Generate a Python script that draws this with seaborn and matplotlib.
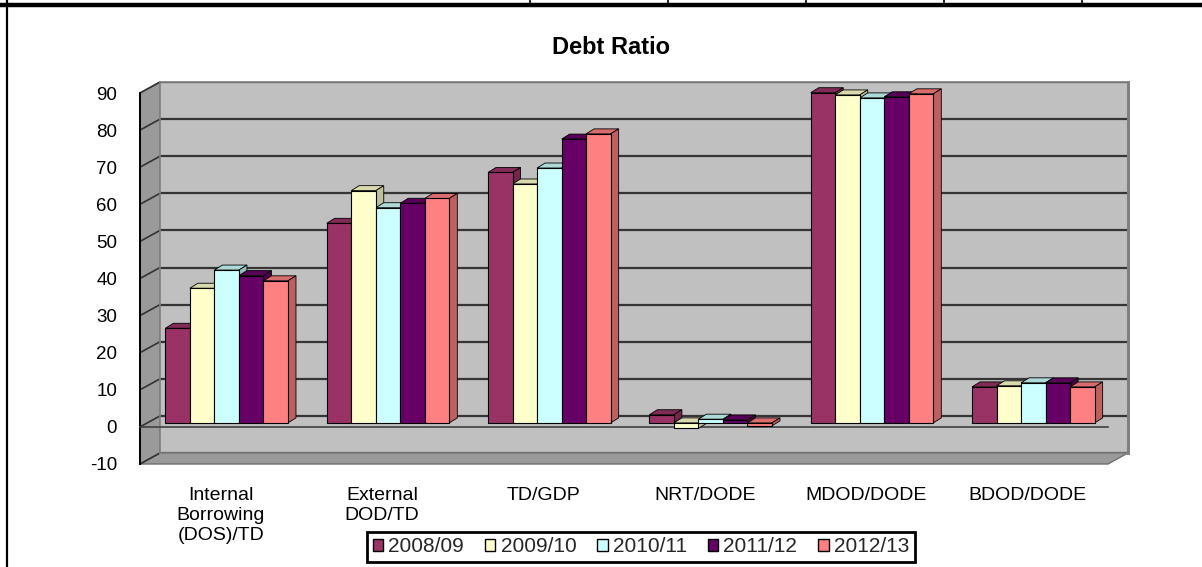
import numpy as np
import pandas as pd
import matplotlib
matplotlib.use("Agg")
import matplotlib.pyplot as plt
from matplotlib.patches import Polygon, Patch
from matplotlib.colors import to_rgb
import seaborn as sns

# ---- data -------------------------------------------------------------
categories = ["Internal\nBorrowing\n(DOS)/TD", "External\nDOD/TD", "TD/GDP",
              "NRT/DODE", "MDOD/DODE", "BDOD/DODE"]
years = ["2008/09", "2009/10", "2010/11", "2011/12", "2012/13"]

ratio_2008_09 = [25.5, 53.8, 67.5, 2.2, 89.0, 9.7]
ratio_2009_10 = [36.3, 62.6, 64.4, -1.5, 88.4, 10.0]
ratio_2010_11 = [41.2, 58.0, 68.7, 1.0, 87.6, 10.8]
ratio_2011_12 = [39.7, 59.2, 76.5, 0.8, 87.9, 10.8]
ratio_2012_13 = [38.3, 60.5, 77.9, -0.8, 88.7, 9.7]

y_ticks = list(range(-10, 100, 10))

# ---- styling ----------------------------------------------------------
colors = ["#993366", "#FFFFCC", "#CCFFFF", "#660066", "#FF8080"]

sns.set_theme(style="white")
plt.rcParams["font.family"] = ["Liberation Sans", "DejaVu Sans"]

series = [ratio_2008_09, ratio_2009_10, ratio_2010_11, ratio_2011_12, ratio_2012_13]
df = pd.DataFrame({
    "category": [c for _ in years for c in categories],
    "year": [y for y in years for _ in categories],
    "value": [v for s in series for v in s],
})

W, H = 1202, 567
fig = plt.figure(figsize=(W / 100, H / 100), dpi=100)

# pixel layout of the pseudo-3D box (front plane, depth offset, bar plane)
FL, FR = 140, 1108          # front plane left/right
FT, FB = 93, 464            # front plane y of top/bottom of the value range
DX, DY = 20, 11             # depth offset to the back wall
BX, BY = 6, 4               # bar plane offset
YMIN, YMAX = -10, 90


def add_ax(left, top, right, bottom, **kw):
    return fig.add_axes([left / W, 1 - bottom / H, (right - left) / W, (bottom - top) / H], **kw)


def yf(v):
    return FB - (v - YMIN) / (YMAX - YMIN) * (FB - FT)


# decoration layer in pixel coordinates
bg = fig.add_axes([0, 0, 1, 1], zorder=-2)
bg.set_xlim(0, W)
bg.set_ylim(H, 0)
bg.axis("off")

# page frame around the chart
bg.plot([0, W], [5, 5], color="black", lw=3.2, solid_capstyle="butt")
for xv in [530, 668, 806, 944, 1082]:
    bg.plot([xv, xv], [0, 5], color="black", lw=1.2)
bg.plot([7, 7], [0, H], color="black", lw=1.6)

# left wall
bg.add_patch(Polygon([(FL, FT), (FL + DX, FT - DY), (FL + DX, FB - DY), (FL, FB)],
                     closed=True, facecolor="#9A9A9A", edgecolor="#707070", lw=1))
for v in y_ticks:
    bg.plot([FL, FL + DX], [yf(v), yf(v) - DY], color="#333333", lw=1.2)
# floor
bg.add_patch(Polygon([(FL, FB), (FL + DX, FB - DY), (FR + DX, FB - DY), (FR, FB)],
                     closed=True, facecolor="#9A9A9A", edgecolor="#707070", lw=1))

# back wall with gridlines
ax_back = add_ax(FL + DX, FT - DY, FR + DX, FB - DY, zorder=0)
ax_back.set_facecolor("#C0C0C0")
ax_back.set_xlim(-0.5, 5.5)
ax_back.set_ylim(YMIN, YMAX)
ax_back.set_xticks([])
ax_back.set_yticks(y_ticks)
ax_back.tick_params(axis="y", length=0, labelleft=False)
ax_back.grid(axis="y", color="#353535", lw=1.6)
for side, sp in ax_back.spines.items():
    sp.set_color("#808080")
    sp.set_linewidth(2.2 if side == "right" else 1.2)

# front plane: value axis and category axis
ax = add_ax(FL, FT, FR, FB, zorder=1)
ax.patch.set_alpha(0)
ax.spines["bottom"].set_position(("data", 0))
ax.spines["bottom"].set_color("#404040")
ax.spines["bottom"].set_linewidth(1.2)
ax.spines["top"].set_visible(False)
ax.spines["right"].set_visible(False)
ax.spines["left"].set_color("black")
ax.spines["left"].set_linewidth(1.4)
ax.set_xlim(-0.5, 5.5)
ax.set_ylim(YMIN, YMAX)
ax.set_yticks(y_ticks)
ax.set_yticklabels([str(t) for t in y_ticks], fontsize=13.5, color="black")
ax.tick_params(axis="y", direction="out", length=4.5, width=1.2, color="black", pad=12)
ax.set_xticks(range(len(categories)))
ax.set_xticklabels(categories, fontsize=14, color="black", linespacing=1.25)
ax.tick_params(axis="x", which="major", length=0, pad=43)
ax.set_xticks(np.arange(-0.5, len(categories), 1.0), minor=True)
ax.tick_params(axis="x", which="minor", direction="out", length=2.5, width=1.8, color="black")

# bar plane
ax_bar = add_ax(FL + BX, FT - BY, FR + BX, FB - BY, zorder=2)
ax_bar.patch.set_alpha(0)
sns.barplot(data=df, x="category", y="value", hue="year", hue_order=years,
            order=categories, palette=colors, saturation=1, width=0.76,
            errorbar=None, edgecolor="black", linewidth=0.8, legend=False, ax=ax_bar)
ax_bar.set_xlim(-0.5, 5.5)
ax_bar.set_ylim(YMIN, YMAX)
ax_bar.axis("off")

# depth faces for each column
ddx = 8 / ((FR - FL) / 6.0)
ddy = 5 / ((FB - FT) / (YMAX - YMIN))
bars = list(ax_bar.patches)
for p in bars:
    x0, w = p.get_x(), p.get_width()
    y_lo = min(p.get_y(), p.get_y() + p.get_height())
    y_hi = max(p.get_y(), p.get_y() + p.get_height())
    base = np.array(to_rgb(p.get_facecolor()))
    top = Polygon([(x0, y_hi), (x0 + w, y_hi), (x0 + w + ddx, y_hi + ddy), (x0 + ddx, y_hi + ddy)],
                  closed=True, facecolor=base * 0.85, edgecolor="black", lw=0.6, zorder=1.5,
                  clip_on=False)
    side = Polygon([(x0 + w, y_lo), (x0 + w, y_hi), (x0 + w + ddx, y_hi + ddy), (x0 + w + ddx, y_lo + ddy)],
                   closed=True, facecolor=base * 0.75, edgecolor="black", lw=0.6, zorder=1.5,
                   clip_on=False)
    ax_bar.add_patch(top)
    ax_bar.add_patch(side)
    p.set_zorder(3)

# title
fig.text(611 / W, 1 - 47 / H, "Debt Ratio", ha="center", va="center",
         fontsize=17, fontweight="bold", color="black")

# legend
handles = [Patch(facecolor=c, edgecolor="black", linewidth=1.0) for c in colors]
leg = fig.legend(handles, years, loc="center", bbox_to_anchor=(641 / W, 1 - 547 / H),
                 ncol=5, fontsize=15, frameon=True, fancybox=False, framealpha=1,
                 edgecolor="black", handlelength=0.5, handleheight=0.5,
                 handletextpad=0.25, columnspacing=1.0, borderpad=0.28)
leg.get_frame().set_linewidth(2.0)

fig.savefig("out.png", dpi=100)
